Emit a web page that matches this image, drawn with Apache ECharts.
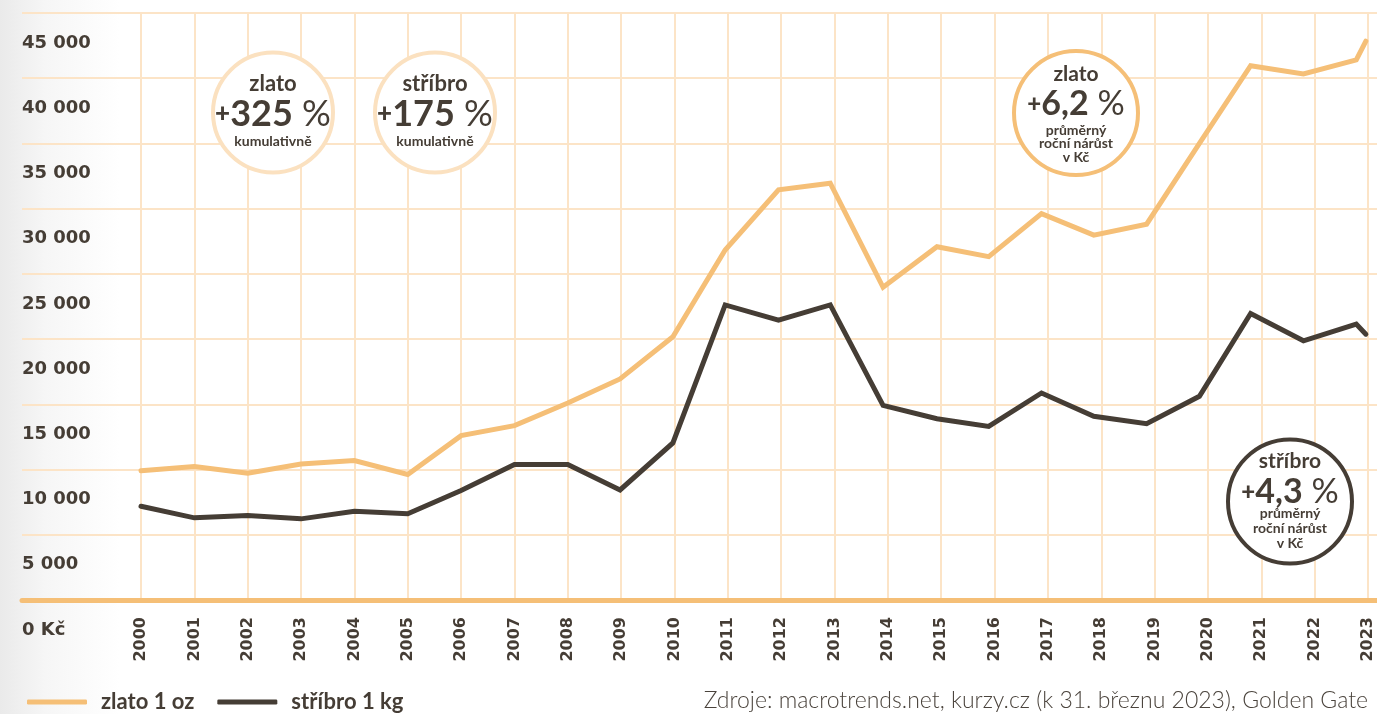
<!DOCTYPE html>
<html><head><meta charset="utf-8">
<script src="https://cdn.jsdelivr.net/npm/echarts@6/dist/echarts.min.js"></script>
<style>
html,body{margin:0;padding:0;width:1377px;height:714px;overflow:hidden;background:linear-gradient(to right,#eaeaea 0px,#f6f6f6 45px,#ffffff 120px);}
#chart{width:1377px;height:714px;}
</style></head><body><div id="chart"></div>
<script>
// Tick labels (x axis)
const years = [2000,2001,2002,2003,2004,2005,2006,2007,2008,2009,2010,2011,2012,2013,2014,2015,2016,2017,2018,2019,2020,2021,2022,2023];
const obsTime = [2000,2001,2002,2003,2004,2005,2006,2007,2008,2008.98,2009.97,2010.95,2011.95,2012.92,2013.91,2014.92,2015.89,2016.88,2017.86,2018.85,2019.84,2020.8,2021.79,2022.78,2022.96];
// zlato 1 oz (Kč)
const goldValues = [9900,10230,9720,10430,10690,9620,12600,13370,15100,16950,20180,26830,31450,31950,23970,27080,26320,29620,27970,28810,35000,40960,40330,41400,42840];
// stříbro 1 kg (Kč)
const silverValues = [7190,6300,6480,6220,6810,6610,8390,10380,10380,8440,12040,22620,21460,22620,14920,13900,13310,15870,14080,13510,15620,21970,19870,21150,20380];
const seriesNames = ['zlato 1 oz','stříbro 1 kg'];
const yMax = 45000, yStep = 5000;

const GOLD = '#f5bf77', DARK = '#453d35', GRID = '#fce4c7', PALE = '#fbe1c0';
const NUMFONT = 'DejaVu Sans';
const TXTFONT = 'Lato';

function fmt(v){
  if (v === 0) return '0 Kč';
  const s = String(v);
  return s.length > 3 ? s.slice(0, s.length-3) + ' ' + s.slice(-3) : s;
}

const chart = echarts.init(document.getElementById('chart'), null, {renderer:'canvas'});

function circle(cx, cy, r, stroke){
  return {type:'circle', z:10, shape:{cx:cx, cy:cy, r:r}, style:{fill:'#ffffff', stroke:stroke, lineWidth:4}};
}
function txt(x, y, text, font, extra){
  return Object.assign({type:'text', z:11, style:{x:x, y:y, text:text, align:'center', verticalAlign:'middle', fill:DARK, font:font}}, extra||{});
}
function big(x, y, num, size){
  return {type:'text', z:11, style:{x:x, y:y, align:'center', verticalAlign:'middle', fill:DARK,
    text:'{p|+}{n|' + num + '}{q| %}',
    rich:{
      p:{fontFamily:TXTFONT, fontWeight:900, fontSize:Math.round(size*0.72), fill:DARK, verticalAlign:'middle'},
      n:{fontFamily:TXTFONT, fontWeight:700, fontSize:size, fill:DARK, verticalAlign:'middle'},
      q:{fontFamily:TXTFONT, fontWeight:400, fontSize:size, fill:DARK, verticalAlign:'middle'}
    }}};
}

const option = {
  animation:false,
  backgroundColor:'transparent',
  grid:[
    {left:141, right:9, top:13, bottom:114},
    {left:22, right:0, top:13, bottom:114}
  ],
  xAxis:[
    {gridIndex:0, type:'value', min:2000, max:2023, interval:1,
     axisLine:{show:false}, axisTick:{show:false},
     splitLine:{show:true, lineStyle:{color:GRID, width:2}},
     axisLabel:{rotate:90, margin:17, fontFamily:NUMFONT, fontWeight:'bold', fontSize:16, color:DARK,
       formatter:function(v){ const i = years.indexOf(Math.round(v)); return i>=0 ? String(years[i]) : ''; }}},
    {gridIndex:1, type:'value', min:0, max:1, show:true,
     axisLine:{show:true, onZero:false, lineStyle:{color:GOLD, width:5}},
     axisTick:{show:false}, axisLabel:{show:false}, splitLine:{show:false}}
  ],
  yAxis:[
    {gridIndex:0, type:'value', min:0, max:yMax, interval:yStep, show:false, splitLine:{show:false}},
    {gridIndex:1, type:'value', min:0, max:yMax, interval:yStep,
     axisLine:{show:false}, axisTick:{show:false},
     splitLine:{show:true, lineStyle:{color:GRID, width:2}},
     axisLabel:{inside:true, margin:0, align:'left', verticalAlign:'top', padding:[21,0,0,0],
       fontFamily:NUMFONT, fontWeight:'bold', fontSize:18, color:DARK, formatter:fmt}}
  ],
  legend:{
    left:22, top:686, itemWidth:60, itemHeight:5, itemGap:23, icon:'roundRect',
    textStyle:{fontFamily:TXTFONT, fontWeight:'bold', fontSize:22, color:DARK, padding:[0,0,0,9]},
    data:seriesNames
  },
  series:[
    {name:seriesNames[0], type:'line', xAxisIndex:0, yAxisIndex:0, color:GOLD, showSymbol:false, symbol:'none',
     lineStyle:{color:GOLD, width:5, cap:'round', join:'miter'},
     data:obsTime.map(function(t,i){return [t, goldValues[i]];})},
    {name:seriesNames[1], type:'line', xAxisIndex:0, yAxisIndex:0, color:DARK, showSymbol:false, symbol:'none',
     lineStyle:{color:DARK, width:5, cap:'round', join:'miter'},
     data:obsTime.map(function(t,i){return [t, silverValues[i]];})}
  ],
  graphic:[
    circle(273, 112.5, 60, PALE),
    txt(273, 84, 'zlato', '700 22px ' + TXTFONT),
    big(273, 114, '325', 36),
    txt(273, 141, 'kumulativně', '700 14px ' + TXTFONT),

    circle(435, 112.5, 60, PALE),
    txt(435, 84, 'stříbro', '700 22px ' + TXTFONT),
    big(435, 114, '175', 36),
    txt(435, 141, 'kumulativně', '700 14px ' + TXTFONT),

    circle(1076, 113, 62, GOLD),
    txt(1076, 74, 'zlato', '700 21px ' + TXTFONT),
    big(1076, 104, '6,2', 34),
    txt(1076, 130, 'průměrný', '700 14px ' + TXTFONT),
    txt(1076, 143.5, 'roční nárůst', '700 14px ' + TXTFONT),
    txt(1076, 157, 'v Kč', '700 14px ' + TXTFONT),

    circle(1290, 501.5, 62, DARK),
    txt(1290, 461, 'stříbro', '700 21px ' + TXTFONT),
    big(1290, 492, '4,3', 34),
    txt(1290, 513, 'průměrný', '700 14px ' + TXTFONT),
    txt(1290, 528, 'roční nárůst', '700 14px ' + TXTFONT),
    txt(1290, 543, 'v Kč', '700 14px ' + TXTFONT),

    {type:'text', z:11, style:{x:1368, y:701, align:'right', verticalAlign:'middle',
      text:'Zdroje: macrotrends.net, kurzy.cz (k 31. březnu 2023), Golden Gate',
      fill:'#4a433c', font:'300 23px ' + TXTFONT}}
  ]
};
chart.setOption(option);
</script></body></html>
